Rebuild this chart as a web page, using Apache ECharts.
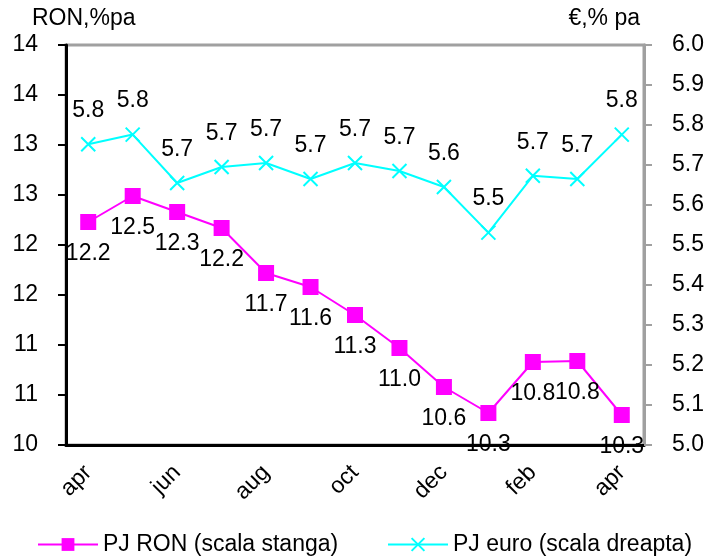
<!DOCTYPE html>
<html>
<head>
<meta charset="utf-8">
<script src="https://cdn.jsdelivr.net/npm/echarts@6/dist/echarts.min.js"></script>
<style>
  html, body { margin: 0; padding: 0; background: #fff; }
  #chart { width: 710px; height: 557px; }
</style>
</head>
<body>
<div id="chart"></div>
<script>
// categorii (luni) si valori
var months = ['apr', 'may', 'jun', 'jul', 'aug', 'sep', 'oct', 'nov', 'dec', 'jan', 'feb', 'mar', 'apr'];
var ronValues = [12.23, 12.49, 12.33, 12.17, 11.72, 11.58, 11.30, 10.97, 10.58, 10.32, 10.83, 10.84, 10.30];
var euroValues = [5.752, 5.776, 5.655, 5.695, 5.705, 5.665, 5.705, 5.685, 5.645, 5.531, 5.673, 5.665, 5.776];
var ronName = 'PJ RON (scala stanga)';
var euroName = 'PJ euro (scala dreapta)';
var ronTitle = 'RON,%pa';
var euroTitle = '€,% pa';

var font = 'Liberation Sans, Arial, sans-serif';
var fs = 23;
var xSymbol = 'path://M0,0L10,10M10,0L0,10';

var chart = echarts.init(document.getElementById('chart'));

var option = {
  animation: false,
  textStyle: { fontFamily: font },
  grid: {
    left: 66, right: 66, top: 45, bottom: 112,
    show: true,
    borderColor: '#a0a0a0',
    borderWidth: 3
  },
  graphic: [
    { type: 'text', left: 32, top: 7, style: { text: ronTitle, font: fs + 'px ' + font, fill: '#000' } },
    { type: 'text', right: 70, top: 7, style: { text: euroTitle, font: fs + 'px ' + font, fill: '#000' } }
  ],
  legend: [
    {
      data: [ronName], left: 32, top: 528,
      itemWidth: 60, itemHeight: 16, itemGap: 8,
      textStyle: { fontSize: fs, color: '#000', fontFamily: font }
    },
    {
      data: [euroName], left: 382, top: 528,
      itemWidth: 60, itemHeight: 16, itemGap: 8,
      textStyle: { fontSize: fs, color: '#000', fontFamily: font }
    }
  ],
  xAxis: {
    type: 'category',
    data: months,
    boundaryGap: true,
    axisLine: { lineStyle: { color: '#000', width: 3 } },
    axisTick: { interval: 0, length: 6, lineStyle: { color: '#000', width: 2 } },
    axisLabel: {
      interval: 1, rotate: 45, margin: 24,
      fontSize: fs, color: '#000', fontFamily: font
    },
    splitLine: { show: false }
  },
  yAxis: [
    {
      type: 'value', min: 10, max: 14, interval: 0.5,
      position: 'left',
      axisLine: { show: true, lineStyle: { color: '#000', width: 3 } },
      axisTick: { show: true, length: 8, lineStyle: { color: '#000', width: 2 } },
      axisLabel: {
        margin: 28, fontSize: fs, color: '#000', fontFamily: font,
        formatter: function (v) { return String(Math.round(v)); }
      },
      splitLine: { show: false }
    },
    {
      type: 'value', min: 5, max: 6, interval: 0.1,
      position: 'right',
      axisLine: { show: true, lineStyle: { color: '#a0a0a0', width: 3 } },
      axisTick: { show: true, length: 8, lineStyle: { color: '#a0a0a0', width: 2 } },
      axisLabel: {
        margin: 28, fontSize: fs, color: '#000', fontFamily: font,
        formatter: function (v) { return v.toFixed(1); }
      },
      splitLine: { show: false }
    }
  ],
  series: [
    {
      name: ronName,
      type: 'line',
      yAxisIndex: 0,
      data: ronValues,
      symbol: 'rect',
      symbolSize: 16,
      lineStyle: { color: '#ff00ff', width: 2 },
      itemStyle: { color: '#ff00ff' },
      label: {
        show: true, position: 'bottom', distance: 12,
        fontSize: fs, color: '#000', fontFamily: font,
        formatter: function (p) { return p.value.toFixed(1); }
      }
    },
    {
      name: euroName,
      type: 'line',
      yAxisIndex: 1,
      data: euroValues,
      symbol: xSymbol,
      symbolSize: 14,
      lineStyle: { color: '#00ffff', width: 2 },
      itemStyle: { color: '#00ffff', borderColor: '#00ffff', borderWidth: 2 },
      label: {
        show: true, position: 'top', distance: 14,
        fontSize: fs, color: '#000', fontFamily: font,
        formatter: function (p) { return p.value.toFixed(1); }
      }
    }
  ]
};

chart.setOption(option);
</script>
</body>
</html>
